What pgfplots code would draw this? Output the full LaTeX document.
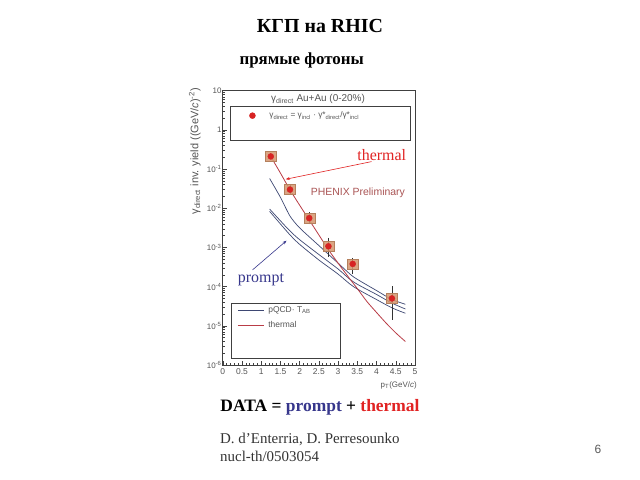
\documentclass[border=0pt]{standalone}
\usepackage{pgfplots}
\pgfplotsset{compat=1.18}
\usetikzlibrary{arrows.meta}
\usepackage{fontspec}
\setmainfont{Liberation Serif}
\setsansfont{Liberation Sans}
\definecolor{bluecurve}{RGB}{62,72,115}
\definecolor{redcurve}{RGB}{185,60,70}
\definecolor{datared}{RGB}{215,35,35}
\definecolor{systbox}{RGB}{212,150,110}
\definecolor{promptblue}{RGB}{55,55,140}
\definecolor{thermred}{RGB}{225,35,35}
\definecolor{phenix}{RGB}{170,85,85}
\definecolor{ticklab}{RGB}{85,85,85}
\begin{document}
\begin{tikzpicture}
\path[fill=white] (0bp,0bp) rectangle (640bp,480bp);
% slide text
\node[font=\fontsize{20}{24}\selectfont\bfseries, anchor=base, inner sep=0pt] at (320bp,447bp) {КГП на RHIC};
\node[font=\fontsize{17}{20}\selectfont\bfseries, anchor=base, inner sep=0pt] at (301.7bp,415bp) {прямые фотоны};
\node[font=\fontsize{17.5}{20}\selectfont\bfseries, anchor=base, inner sep=0pt] at (320bp,68.5bp) {DATA = \textcolor{promptblue}{prompt} + \textcolor{thermred}{thermal}};
\node[font=\fontsize{15}{18}\selectfont, anchor=base west, text=black!80, inner sep=0pt] at (220bp,36.7bp) {D. d’Enterria, D. Perresounko};
\node[font=\fontsize{15}{18}\selectfont, anchor=base west, text=black!80, inner sep=0pt] at (220bp,18.3bp) {nucl-th/0503054};
\node[font=\sffamily\fontsize{12}{14}\selectfont, text=black!65, anchor=base, inner sep=0pt] at (598bp,27bp) {6};

\begin{axis}[
  at={(222.7bp,115bp)}, anchor=south west, scale only axis,
  width=192.3bp, height=274.3bp,
  xmin=0, xmax=5, ymode=log, ymin=1e-6, ymax=10,
  axis line style={black!75, line width=0.6bp},
  xtick pos=bottom, ytick pos=left, tick align=inside,
  xtick={0,0.5,1,1.5,2,2.5,3,3.5,4,4.5,5},
  xticklabels={0,0.5,1,1.5,2,2.5,3,3.5,4,4.5,5},
  minor x tick num=4,
  ytick={1e-6,1e-5,1e-4,1e-3,1e-2,1e-1,1,10},
  yticklabels={10\textsuperscript{-6},10\textsuperscript{-5},10\textsuperscript{-4},10\textsuperscript{-3},10\textsuperscript{-2},10\textsuperscript{-1},1,10},
  major tick length=4bp, minor tick length=2bp,
  every tick/.style={black!75, line width=0.4bp},
  xticklabel style={font=\sffamily\fontsize{8.5}{9}\selectfont, text=ticklab},
  yticklabel style={font=\sffamily\fontsize{8}{9}\selectfont, text=ticklab, inner xsep=1bp},
  xlabel={p\textsubscript{T}(GeV/\textit{c})},
  xlabel style={at={(axis description cs:1.01,-0.073)}, anchor=east, font=\sffamily\fontsize{8}{9}\selectfont, text=ticklab, inner sep=0pt},
  ylabel={γ\textsubscript{direct} inv. yield ((GeV/\textit{c})\textsuperscript{-2})},
  ylabel style={at={(axis description cs:-0.145,1.01)}, anchor=east, font=\sffamily\fontsize{11}{12}\selectfont, text=ticklab, inner sep=0pt},
  legend image code/.code={\draw[#1] (0bp,0bp) -- (26bp,0bp);},
  legend cell align=left,
  legend style={at={(axis description cs:0.076,0.217)}, anchor=north west, draw=none, fill=none, inner sep=0pt, row sep=5bp, column sep=3bp, font=\sffamily\fontsize{8.5}{9}\selectfont, text=ticklab, nodes={inner sep=1bp}},
]
% pQCD curves (three)
\addplot[bluecurve, line width=0.7bp, smooth, tension=0.4] coordinates {
 (1.22,0.0575) (1.5,0.0191) (1.75,0.00631) (2.0,0.00316) (2.5,0.00112) (3.0,3.98e-4) (3.4,1.78e-4) (4.0,7.94e-5) (4.4,4.68e-5) (4.75,3.55e-5)};
\addlegendentry{pQCD· T\textsubscript{AB}}
\addplot[bluecurve, line width=0.7bp, smooth, forget plot] coordinates {
 (1.22,0.00955) (1.5,0.00479) (1.75,0.00263) (2.0,0.00158) (2.5,6.61e-4) (3.0,2.82e-4) (3.4,1.32e-4) (4.0,6.31e-5) (4.4,3.80e-5) (4.75,2.69e-5)};
\addplot[bluecurve, line width=0.7bp, smooth, forget plot] coordinates {
 (1.22,0.00832) (1.5,0.00398) (1.75,0.00209) (2.0,0.00120) (2.5,4.79e-4) (3.0,2.09e-4) (3.4,1.0e-4) (4.0,4.68e-5) (4.4,2.88e-5) (4.75,2.09e-5)};
% thermal curve
\addplot[redcurve, line width=0.8bp, smooth] coordinates {
 (1.25,0.209) (1.5,0.0794) (1.75,0.0295) (2.0,0.0120) (2.25,0.00501) (2.5,0.00209) (2.75,8.71e-4) (3.0,3.98e-4) (3.25,1.86e-4) (3.5,8.91e-5) (3.75,4.17e-5) (4.0,2.19e-5) (4.25,1.17e-5) (4.5,6.61e-6) (4.75,3.98e-6)};
\addlegendentry{thermal}
% systematic boxes
\addplot[only marks, mark=square*, mark size=5bp, mark options={xscale=1.1, fill=systbox, draw=systbox!85!black, fill opacity=0.85}, forget plot] coordinates {
 (1.25,0.21) (1.75,0.030) (2.25,0.0056) (2.75,0.00107) (3.38,3.8e-4) (4.4,5.0e-5)};
% data points
\addplot[only marks, mark=*, mark size=3bp, color=datared, forget plot,
  error bars/.cd, y dir=both, y explicit, error bar style={black!80, line width=0.5bp}, error mark options={black!80, mark size=2bp}]
 table[x=x, y=y, y error plus=ep, y error minus=em] {
 x y ep em
 1.25 0.21 0 0
 1.75 0.030 0.004 0.004
 2.25 0.0056 0.0015 0.0012
 2.75 0.00107 0.00048 0.00042
 3.38 0.00038 0.0001 0.00014
 4.4 5.0e-5 4.0e-5 3.4e-5
 };
% boxes
\draw[black!75, line width=0.6bp] (axis description cs:0.038,0.820) rectangle (axis description cs:0.974,0.942);
\draw[black!75, line width=0.6bp] (axis description cs:0.047,0.0244) rectangle (axis description cs:0.610,0.225);
% annotations
\node[font=\sffamily\fontsize{10}{11}\selectfont, text=ticklab] at (axis description cs:0.496,0.969) {γ\textsubscript{direct} Au+Au (0-20\%)};
\node[font=\sffamily\fontsize{10.5}{12}\selectfont, text=phenix] at (axis description cs:0.703,0.628) {PHENIX Preliminary};
\node[font=\fontsize{16}{18}\selectfont, text=thermred, anchor=base] at (axis description cs:0.827,0.747) {thermal};
\draw[-{Stealth[length=4bp,width=3bp]}, thermred, line width=0.6bp] (axis cs:3.87,0.155) -- (axis cs:1.64,0.055);
\node[font=\fontsize{16}{18}\selectfont, text=promptblue, anchor=base] at (axis description cs:0.199,0.299) {prompt};
\draw[-{Stealth[length=4bp,width=3bp]}, promptblue, line width=0.6bp] (axis cs:0.775,2.67e-4) -- (axis cs:1.66,1.49e-3);
\end{axis}

\begin{axis}[
  at={(222.7bp,115bp)}, anchor=south west, scale only axis,
  width=192.3bp, height=274.3bp,
  xmin=0, xmax=5, ymode=log, ymin=1e-6, ymax=10, hide axis,
  legend style={at={(axis description cs:0.138,0.909)}, anchor=west, draw=none, fill=none, inner sep=0pt, column sep=12bp, font=\sffamily\fontsize{8.3}{9}\selectfont, text=ticklab},
]
\addlegendimage{only marks, mark=*, mark size=3bp, color=datared}
\addlegendentry{γ\textsubscript{direct} = γ\textsubscript{incl} · γ*\textsubscript{direct}/γ*\textsubscript{incl}}
\end{axis}
\end{tikzpicture}
\end{document}
